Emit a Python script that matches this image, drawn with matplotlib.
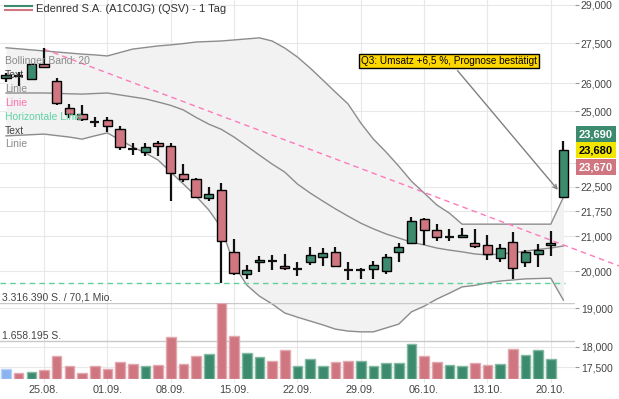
import matplotlib.pyplot as plt
import matplotlib.transforms as mtransforms
import numpy as np

plt.rcParams['font.family'] = ['Liberation Sans', 'DejaVu Sans']

# trading days 20.08. - 21.10., one candle per day
week_labels = ['25.08.', '01.09.', '08.09.', '15.09.', '22.09.', '29.09.', '06.10.', '13.10.', '20.10.']
week_pos = [3, 8, 13, 18, 23, 28, 33, 38, 43]

opens = [26.19, 26.26, 26.17, 26.71, 26.07, 25.11, 24.91, 24.64, 24.69, 24.38,
         23.72, 23.63, 23.91, 23.82, 22.90, 22.74, 22.14, 22.40, 20.54, 19.92,
         20.26, 20.28, 20.15, 20.06, 20.25, 20.40, 20.54, 20.04, 20.04, 20.07,
         20.02, 20.54, 20.81, 21.50, 21.19, 20.97, 20.99, 20.80, 20.76, 20.37,
         20.83, 20.25, 20.48, 20.74, 22.19]
highs = [26.38, 26.42, 26.71, 27.31, 26.18, 25.25, 25.21, 24.79, 24.82, 24.50,
         23.93, 23.93, 23.99, 23.91, 23.23, 22.77, 22.49, 22.61, 20.92, 20.17,
         20.43, 20.46, 20.49, 20.25, 20.68, 20.67, 20.68, 20.25, 20.08, 20.28,
         20.48, 20.80, 21.57, 21.53, 21.36, 21.21, 21.24, 21.21, 21.03, 20.78,
         21.12, 20.60, 20.77, 21.16, 23.99]
lows = [26.05, 25.91, 26.12, 26.55, 25.21, 24.77, 24.66, 24.45, 24.30, 23.69,
        23.51, 23.49, 23.49, 22.07, 22.66, 22.18, 22.07, 19.67, 19.90, 19.80,
        19.99, 20.05, 20.05, 19.87, 20.17, 20.15, 20.11, 19.76, 19.78, 19.80,
        19.93, 20.25, 20.80, 20.76, 20.87, 20.87, 20.94, 20.67, 20.32, 20.25,
        19.78, 20.11, 20.13, 20.44, 22.19]
closes = [26.29, 26.26, 26.71, 26.59, 25.28, 24.91, 24.75, 24.64, 24.49, 23.80,
          23.72, 23.78, 23.82, 22.93, 22.76, 22.19, 22.27, 20.85, 19.94, 20.05,
          20.32, 20.28, 20.08, 20.06, 20.45, 20.51, 20.14, 20.04, 20.04, 20.17,
          20.40, 20.68, 21.45, 21.18, 20.97, 20.97, 21.03, 20.71, 20.49, 20.65,
          20.09, 20.56, 20.60, 20.80, 23.69]

volumes = [423000, 262000, 319000, 380000, 1004000, 567000, 262000, 580000, 436000, 729000,
           655000, 567000, 611000, 1846000, 641000, 1017000, 1078000, 3316390, 1876000, 1135000,
           973000, 785000, 1265000, 580000, 886000, 567000, 742000, 799000, 772000, 567000,
           698000, 685000, 1514000, 991000, 729000, 598000, 567000, 698000, 611000, 641000,
           1296000, 1060000, 1265000, 860000]
volume_dir = ['n', 'd', 'u', 'd', 'd', 'd', 'd', 'd', 'd', 'd',
              'd', 'u', 'd', 'd', 'd', 'd', 'u', 'd', 'd', 'u',
              'u', 'd', 'd', 'u', 'u', 'u', 'd', 'd', 'u', 'u',
              'u', 'u', 'u', 'd', 'd', 'u', 'u', 'd', 'd', 'u',
              'd', 'u', 'u', 'u']

bb_upper = [27.32, 27.28, 27.24, 27.20, 27.16, 27.12, 27.08, 27.05, 27.01, 27.14,
            27.27, 27.33, 27.39, 27.43, 27.48, 27.54, 27.56, 27.58, 27.62, 27.66,
            27.70, 27.58, 27.31, 26.97, 26.56, 26.12, 25.68, 25.26, 24.60, 24.05,
            23.62, 23.16, 22.68, 22.31, 21.94, 21.69, 21.36, 21.36, 21.36, 21.36,
            21.36, 21.36, 21.36, 21.36, 22.18]
bb_middle = [25.65, 25.65, 25.65, 25.65, 25.64, 25.62, 25.61, 25.63, 25.65, 25.58,
             25.51, 25.44, 25.33, 25.21, 25.05, 24.79, 24.56, 24.38, 24.12, 23.82,
             23.52, 23.23, 22.97, 22.59, 22.31, 22.06, 21.82, 21.60, 21.39, 21.22,
             21.07, 20.95, 20.83, 20.75, 20.66, 20.60, 20.55, 20.49, 20.46, 20.49,
             20.52, 20.57, 20.62, 20.66, 20.72]
bb_lower = [24.16, 24.18, 24.20, 24.22, 24.17, 24.12, 24.05, 24.16, 24.26, 24.02,
            23.79, 23.59, 23.36, 22.97, 22.59, 22.21, 21.79, 21.25, 20.18, 19.62,
            19.32, 19.11, 18.87, 18.76, 18.66, 18.56, 18.45, 18.40, 18.38, 18.38,
            18.48, 18.58, 18.90, 19.05, 19.24, 19.40, 19.57, 19.61, 19.68, 19.73,
            19.76, 19.79, 19.80, 19.81, 19.21]

trend_x = [3, 48.4]
trend_y = [27.27, 20.15]
support_level = 19.67

price_ticks = [29.0, 27.5, 26.0, 25.0, 23.25, 22.5, 21.75, 21.0, 20.0, 19.0, 18.0, 17.5]
hidden_ticks = [23.25]  # covered by the last-price boxes

GREEN = '#3d8b6e'
RED = '#cf7680'
GRID = '#e8e8e8'

fig = plt.figure(figsize=(6.19, 3.99), dpi=100)
ax = fig.add_axes([0, 1 - 383 / 399, 575 / 619, 383 / 399])
ax.set_yscale('log')
ax.set_ylim(17.114, 29.203)
ax.set_xlim(-0.474, 44.91)
for s in ax.spines.values():
    s.set_visible(False)

ax.set_yticks(price_ticks)
ax.set_yticklabels(['' if v in hidden_ticks else f"{v:.3f}".replace('.', ',') for v in price_ticks])
ax.yaxis.set_minor_locator(plt.NullLocator())
ax.yaxis.tick_right()
ax.tick_params(axis='y', length=3, width=0.8, color='#999999', pad=1.2,
               labelsize=7.5, labelcolor='#444444')
ax.set_xticks(week_pos)
ax.set_xticklabels(week_labels)
ax.tick_params(axis='x', length=0, pad=1.5, labelsize=7.8, labelcolor='#444444')
ax.grid(True, color=GRID, lw=0.8, zorder=0)
ax.set_axisbelow(True)

x = np.arange(len(opens))
o = np.array(opens)
c = np.array(closes)

# bollinger band
ax.fill_between(x, bb_lower, bb_upper, color='#f2f2f2', lw=0, zorder=1)
for band in (bb_upper, bb_middle, bb_lower):
    ax.plot(x, band, color='#8c8c8c', lw=1.0, zorder=2)

# trend + support lines
ax.plot(trend_x, trend_y, color='#ff7ab8', lw=1.0, ls=(0, (4, 3)), zorder=2.2, clip_on=False)
ax.hlines(support_level, -0.474, 44.1, color='#62cf9f', lw=1.0, linestyles=(0, (4, 3)), zorder=2.2)

# candles
ax.vlines(x, lows, highs, color='#111111', lw=1.6, zorder=3)
up = c > o
dn = c < o
dj = c == o
ax.bar(x[up], (c - o)[up], bottom=o[up], width=0.72, color=GREEN, edgecolor='black', lw=1.0, zorder=4)
ax.bar(x[dn], (o - c)[dn], bottom=c[dn], width=0.72, color=RED, edgecolor='black', lw=1.0, zorder=4)
ax.hlines(o[dj], x[dj] - 0.36, x[dj] + 0.36, color='#111111', lw=1.6, zorder=4)

# annotation
ax.annotate('Q3: Umsatz +6,5 %, Prognose bestätigt', xy=(43.7, 22.34), xytext=(35.0, 26.82),
            fontsize=7.2, ha='center', va='center', color='black', zorder=6,
            bbox=dict(boxstyle='square,pad=0.2', fc='#ffd700', ec='black', lw=1),
            arrowprops=dict(arrowstyle='->,head_length=0.4,head_width=0.2', color='#808080', lw=1))

# last price labels
trans = mtransforms.blended_transform_factory(ax.transAxes, ax.transData)
for txt, dy, fc, tc in [('23,690', 16, GREEN, 'white'), ('23,680', 0, '#f2e600', 'black'),
                        ('23,670', -17, RED, 'white')]:
    ax.annotate(txt, xy=(1.0, 23.68), xycoords=trans, xytext=(4, dy), textcoords='offset pixels',
                ha='left', va='center', fontsize=8, fontweight='bold', color=tc, zorder=7,
                annotation_clip=False,
                bbox=dict(boxstyle='square,pad=0.25', fc=fc, ec='none'))

# volume panel
vax = fig.add_axes([0, 1 - 379 / 399, 575 / 619, 76 / 399])
vax.set_xlim(-0.474, 44.91)
vax.set_ylim(0, 3316390)
vax.patch.set_alpha(0)
vax.axis('off')
vcol = {'n': ('#8ab4f0', '#b7d0f5'), 'u': (GREEN, '#84b9a3'), 'd': (RED, '#e2a9b0')}
vx = np.arange(len(volumes))
vax.bar(vx, volumes, width=0.76, color=[vcol[d][0] for d in volume_dir],
        edgecolor=[vcol[d][1] for d in volume_dir], lw=1.0, zorder=3)
vax.axhline(3316390, color='#c8c8c8', lw=1.0, zorder=2)
vax.axhline(1658195, color='#c8c8c8', lw=1.0, zorder=2)
vtrans = mtransforms.blended_transform_factory(vax.transAxes, vax.transData)
vax.text(0.004, 3316390, '3.316.390 S. / 70,1 Mio.', transform=vtrans, va='bottom', ha='left',
         fontsize=7.5, color='#444444')
vax.text(0.004, 1658195, '1.658.195 S.', transform=vtrans, va='bottom', ha='left',
         fontsize=7.5, color='#444444')

# header legend
fig.add_artist(plt.Line2D([5 / 619, 32 / 619], [1 - 5.5 / 399] * 2, color=GREEN, lw=1.5))
fig.add_artist(plt.Line2D([5 / 619, 32 / 619], [1 - 10 / 399] * 2, color=RED, lw=1.5))
fig.text(36 / 619, 1 - 8.5 / 399, 'Edenred S.A. (A1C0JG) (QSV) - 1 Tag', fontsize=8,
         color='#333333', va='center', ha='left')

legend_items = [('Bollinger Band: 20', '#8a8a8a'), ('Text', '#444444'), ('Linie', '#8a8a8a'),
                ('Linie', '#ff6fb0'), ('Horizontale Linie', '#5fd3a4'), ('Text', '#444444'),
                ('Linie', '#8a8a8a')]
for k, (label, col) in enumerate(legend_items):
    fig.text(5 / 619, 1 - (60.5 + 14 * k) / 399, label, fontsize=7.5, color=col,
             va='center', ha='left', zorder=8)

fig.savefig('out.png', dpi=100)
